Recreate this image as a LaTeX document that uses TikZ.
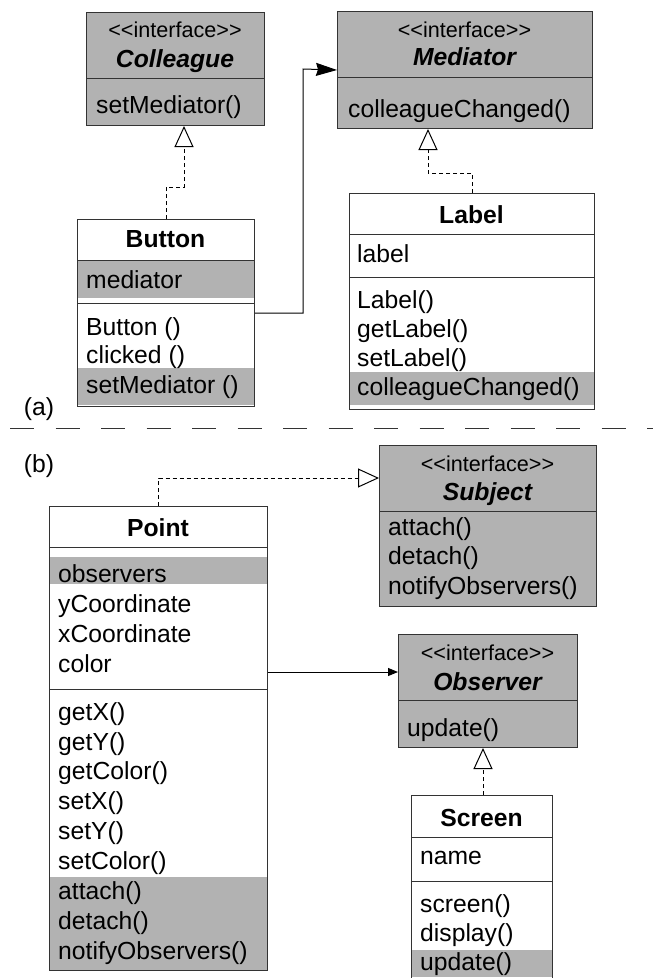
\documentclass[tikz,border=0pt]{standalone}
\usepackage{fontspec}
\setmainfont{Liberation Sans}
\usetikzlibrary{arrows.meta,backgrounds}

\newcommand\bodyfont{\fontsize{24.7pt}{29.5pt}\selectfont}
\newcommand\stereofont{\fontsize{21.6pt}{26pt}\selectfont}
\newcommand\stereotext{{<}{<}interface{>}{>}}

\begin{document}
\begin{tikzpicture}[x=1pt,y=-1pt,
  box/.style={anchor=north west, inner sep=0pt, draw=black!80, line width=1pt},
  iface/.style={box, fill=black!30},
  cls/.style={box},
  band/.style={fill=black!30},
  rule/.style={draw=black!80, line width=1pt},
  txt/.style={anchor=base west, inner sep=0pt, font=\bodyfont},
  ttl/.style={anchor=base, inner sep=0pt, font=\bodyfont\bfseries},
  ittl/.style={anchor=base, inner sep=0pt, font=\bodyfont\bfseries\itshape},
  stereo/.style={anchor=base, inner sep=0pt, font=\stereofont},
  real/.style={line width=1pt, dash pattern=on 4pt off 3pt,
    -{Triangle[open, length=21pt, width=19pt, fill=white, line width=1pt]}},
  assoc/.style={line width=1pt, -{Stealth[length=21pt, width=13pt, inset=2pt]}},
  assocsmall/.style={line width=1pt, -{Triangle[length=10pt, width=8pt]}},
  sep/.style={line width=1pt, draw=black!80, dash pattern=on 24pt off 21.5pt}
]
\useasboundingbox (0,0) rectangle (653,978);

% ---------------- (a) Mediator ----------------
\node[iface, minimum width=178pt, minimum height=113pt] (colleague) at (86,12) {};
\draw[rule] (colleague.west |- 0,78) -- (colleague.east |- 0,78);
\node[stereo] (colleaguest) at (175,37) {\stereotext};
\node[ittl] (colleaguename) at (175,67) {Colleague};
\node[txt] (colleaguem1) at (96,113) {setMediator()};

\node[iface, minimum width=255pt, minimum height=117pt] (mediator) at (337,11) {};
\draw[rule] (mediator.west |- 0,77) -- (mediator.east |- 0,77);
\node[stereo] (mediatorst) at (464.5,37) {\stereotext};
\node[ittl] (mediatorname) at (464.5,65) {Mediator};
\node[txt] (mediatorm1) at (348,117) {colleagueChanged()};

\node[cls, minimum width=177pt, minimum height=187pt] (button) at (77,219) {};
\draw[rule] (button.west |- 0,260) -- (button.east |- 0,260);
\draw[rule] (button.west |- 0,303) -- (button.east |- 0,303);
\node[ttl] (buttonname) at (165.5,247) {Button};
\node[txt] (buttona1) at (86,288) {mediator};
\node[txt] (buttonm1) at (86,335) {Button ()};
\node[txt] (buttonm2) at (86,363) {clicked ()};
\node[txt] (buttonm3) at (86,393) {setMediator ()};

\node[cls, minimum width=245pt, minimum height=216pt] (label) at (349,193) {};
\draw[rule] (label.west |- 0,234) -- (label.east |- 0,234);
\draw[rule] (label.west |- 0,277) -- (label.east |- 0,277);
\node[ttl] (labelname) at (471.5,223) {Label};
\node[txt] (labela1) at (357,262) {label};
\node[txt] (labelm1) at (357,308) {Label()};
\node[txt] (labelm2) at (357,337) {getLabel()};
\node[txt] (labelm3) at (357,366) {setLabel()};
\node[txt] (labelm4) at (357,395) {colleagueChanged()};

\draw[real] (button.north) |- (184,187) -- (colleague.south -| 184,187);
\draw[real] (label.north) |- (428,173) -- (mediator.south -| 428,173);
\draw[assoc] (button.east) -| (303,69) -- (mediator.west);

\node[txt, anchor=base] (parta) at (39,415) {(a)};
\draw[sep] (10,428) -- (653,428);
\node[txt, anchor=base] (partb) at (39,472) {(b)};

% ---------------- (b) Observer ----------------
\node[cls, minimum width=218pt, minimum height=464pt] (point) at (49,506) {};
\draw[rule] (point.west |- 0,547) -- (point.east |- 0,547);
\draw[rule] (point.west |- 0,689) -- (point.east |- 0,689);
\node[ttl] (pointname) at (158,536) {Point};
\node[txt] (pointa1) at (58,582) {observers};
\node[txt] (pointa2) at (58,612) {yCoordinate};
\node[txt] (pointa3) at (58,642) {xCoordinate};
\node[txt] (pointa4) at (58,672) {color};
\node[txt] (pointm1) at (58,720) {getX()};
\node[txt] (pointm2) at (58,750) {getY()};
\node[txt] (pointm3) at (58,779) {getColor()};
\node[txt] (pointm4) at (58,809) {setX()};
\node[txt] (pointm5) at (58,839) {setY()};
\node[txt] (pointm6) at (58,869) {setColor()};
\node[txt] (pointm7) at (58,899) {attach()};
\node[txt] (pointm8) at (58,929) {detach()};
\node[txt] (pointm9) at (58,959) {notifyObservers()};

\node[iface, minimum width=217pt, minimum height=161pt] (subject) at (379,445) {};
\draw[rule] (subject.west |- 0,511) -- (subject.east |- 0,511);
\node[stereo] (subjectst) at (487.5,471) {\stereotext};
\node[ittl] (subjectname) at (487.5,500) {Subject};
\node[txt] (subjectm1) at (388,535) {attach()};
\node[txt] (subjectm2) at (388,564) {detach()};
\node[txt] (subjectm3) at (388,594) {notifyObservers()};

\node[iface, minimum width=179pt, minimum height=113pt] (observer) at (398,634) {};
\draw[rule] (observer.west |- 0,700) -- (observer.east |- 0,700);
\node[stereo] (observerst) at (487.5,660) {\stereotext};
\node[ittl] (observername) at (487.5,690) {Observer};
\node[txt] (observerm1) at (407,736) {update()};

% Screen runs off the bottom edge: no bottom border
\node[anchor=north west, inner sep=0pt, minimum width=141pt, minimum height=183pt] (screen) at (411,795) {};
\draw[rule] (screen.south west) |- (screen.north east) -- (screen.south east);
\draw[rule] (screen.west |- 0,837) -- (screen.east |- 0,837);
\draw[rule] (screen.west |- 0,881) -- (screen.east |- 0,881);
\node[ttl] (screenname) at (481.5,826) {Screen};
\node[txt] (screena1) at (420,864) {name};
\node[txt] (screenm1) at (420,912) {screen()};
\node[txt] (screenm2) at (420,941) {display()};
\node[txt] (screenm3) at (420,970) {update()};

\draw[real] (point.north) |- (subject.west |- 0,478);
\draw[assocsmall] (point.east |- 0,672) -- (observer.west |- 0,672);
\draw[real] (screen.north -| 483,0) -- (observer.south -| 483,0);

% ---------------- shaded compartments ----------------
\begin{scope}[on background layer]
  \fill[white] (0,0) rectangle (653,978);
  \fill[band] (button.west |- 0,260) rectangle (button.east |- 0,298);
  \fill[band] (button.west |- 0,368) rectangle (button.east |- 0,405);
  \fill[band] (label.west |- 0,372) rectangle (label.east |- 0,405);
  \fill[band] (point.west |- 0,557) rectangle (point.east |- 0,584);
  \fill[band] (point.west |- 0,877) rectangle (point.east |- 0,970);
  \fill[band] (screen.west |- 0,950) rectangle (screen.east |- 0,977);
\end{scope}
\end{tikzpicture}
\end{document}
